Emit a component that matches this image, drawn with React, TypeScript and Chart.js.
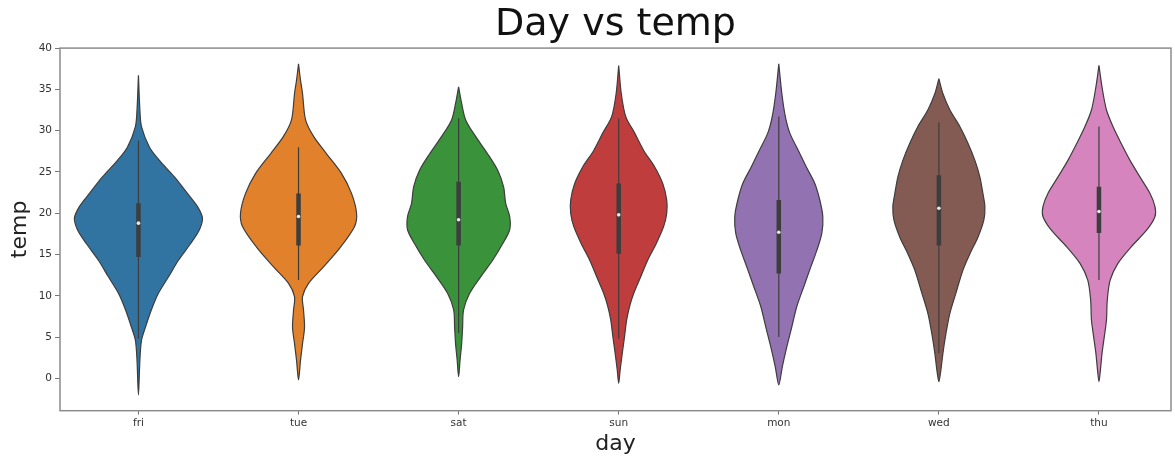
import React, { useEffect, useRef } from "react";
import { Chart, registerables } from "chart.js";

Chart.register(...registerables);

// ---- data ----
const days = ["fri", "tue", "sat", "sun", "mon", "wed", "thu"];
const colors = ["#3274a1", "#e1812c", "#3a923a", "#c03d3e", "#9372b2", "#845b53", "#d684bd"];
const yTicks = [0, 5, 10, 15, 20, 25, 30, 35, 40];

// density profiles: temperature levels (top -> bottom) and half-widths (category units)
const friTemps = [36.7, 32.5, 30.5, 28.0, 26.4, 24.4, 22.4, 20.8, 19.4, 18.0, 16.3, 14.3, 12.3, 10.3, 8.3, 6.2, 4.6, 2.2, -2.0];
const friHalf = [0, 0.009, 0.019, 0.069, 0.131, 0.225, 0.306, 0.369, 0.4, 0.381, 0.325, 0.25, 0.188, 0.125, 0.081, 0.044, 0.019, 0.009, 0];

const tueTemps = [38.1, 36.1, 34.5, 31.3, 29.3, 27.2, 24.8, 22.4, 20.0, 18.4, 15.9, 13.5, 11.5, 9.9, 8.3, 6.2, 4.2, 2.2, -0.2];
const tueHalf = [0, 0.0125, 0.025, 0.044, 0.094, 0.175, 0.269, 0.331, 0.3625, 0.35, 0.2625, 0.156, 0.0625, 0.025, 0.031, 0.0375, 0.025, 0.0125, 0];

const satTemps = [35.3, 33.3, 31.3, 29.3, 27.2, 25.2, 23.2, 21.2, 19.6, 18.0, 16.3, 14.3, 12.3, 10.3, 8.3, 6.2, 4.2, 2.2, 0.2];
const satHalf = [0, 0.019, 0.044, 0.106, 0.181, 0.244, 0.281, 0.294, 0.319, 0.319, 0.275, 0.2125, 0.1375, 0.069, 0.031, 0.025, 0.019, 0.009, 0];

const sunTemps = [37.9, 34.5, 31.7, 29.7, 27.6, 25.6, 23.6, 21.6, 20.0, 18.4, 16.3, 14.3, 12.3, 10.3, 8.7, 7.1, 5.0, 3.0, 1.0, -0.6];
const sunHalf = [0, 0.016, 0.044, 0.1, 0.156, 0.225, 0.275, 0.3, 0.3, 0.281, 0.234, 0.181, 0.1375, 0.094, 0.068, 0.05, 0.036, 0.022, 0.009, 0];

const monTemps = [38.1, 34.5, 31.7, 29.7, 27.6, 25.6, 23.6, 21.6, 19.6, 17.6, 15.5, 13.5, 11.1, 8.7, 6.2, 3.8, 1.4, -0.8];
const monHalf = [0, 0.019, 0.041, 0.069, 0.122, 0.172, 0.225, 0.256, 0.275, 0.269, 0.2375, 0.2, 0.156, 0.1125, 0.081, 0.05, 0.022, 0];

const wedTemps = [36.3, 34.5, 32.5, 30.5, 28.5, 26.4, 24.4, 22.4, 20.8, 19.2, 17.1, 15.1, 13.1, 10.3, 7.9, 5.4, 3.0, 1.0, -0.4];
const wedHalf = [0, 0.025, 0.069, 0.131, 0.181, 0.225, 0.256, 0.275, 0.2875, 0.281, 0.244, 0.194, 0.15, 0.106, 0.069, 0.044, 0.025, 0.0125, 0];

const thuTemps = [37.9, 35.3, 32.5, 30.5, 28.5, 26.4, 24.4, 22.4, 20.8, 19.6, 18.0, 15.9, 13.9, 11.9, 9.5, 7.1, 5.0, 3.0, 1.0, -0.4];
const thuHalf = [0, 0.019, 0.047, 0.0875, 0.1375, 0.194, 0.256, 0.319, 0.35, 0.35, 0.3, 0.2, 0.1175, 0.07, 0.052, 0.047, 0.033, 0.019, 0.009, 0];

const profileTemps = [friTemps, tueTemps, satTemps, sunTemps, monTemps, wedTemps, thuTemps];
const profileHalf = [friHalf, tueHalf, satHalf, sunHalf, monHalf, wedHalf, thuHalf];

// inner box statistics
const whiskerLow = [4.8, 11.9, 5.5, 4.8, 5.0, 3.0, 11.9];
const whiskerHigh = [28.8, 28.0, 31.5, 31.5, 31.7, 31.0, 30.5];
const q1 = [14.7, 16.1, 16.1, 15.1, 12.7, 16.1, 17.6];
const q3 = [21.2, 22.4, 23.8, 23.6, 21.6, 24.6, 23.2];
const medians = [18.8, 19.6, 19.2, 19.8, 17.7, 20.6, 20.2];

const EDGE = "#3d3d3d";

function outline(center: number, temps: number[], half: number[]) {
  const right = temps.map((t, i) => ({ x: center + half[i], y: t }));
  const left = temps.map((t, i) => ({ x: center - half[i], y: t })).reverse();
  return right.concat(left.slice(1));
}

const spinePlugin = {
  id: "spines",
  beforeDatasetsDraw(chart: any) {
    const { ctx, chartArea } = chart;
    ctx.save();
    ctx.strokeStyle = "#8c8c8c";
    ctx.lineWidth = 1.5;
    ctx.strokeRect(chartArea.left, chartArea.top, chartArea.right - chartArea.left, chartArea.bottom - chartArea.top);
    ctx.restore();
  },
};

export default function App() {
  const ref = useRef<HTMLCanvasElement | null>(null);

  useEffect(() => {
    if (!ref.current) return;
    Chart.defaults.font.family = "'DejaVu Sans', sans-serif";
    const datasets: any[] = [];
    days.forEach((_, i) => {
      datasets.push({
        type: "line",
        data: outline(i, profileTemps[i], profileHalf[i]),
        borderColor: EDGE,
        borderWidth: 1.2,
        backgroundColor: colors[i],
        fill: "shape",
        tension: 0.3,
        pointRadius: 0,
        order: 3,
      });
      datasets.push({
        type: "line",
        data: [{ x: i, y: whiskerLow[i] }, { x: i, y: whiskerHigh[i] }],
        borderColor: EDGE,
        borderWidth: 1.2,
        pointRadius: 0,
        fill: false,
        order: 2,
      });
      datasets.push({
        type: "line",
        data: [{ x: i, y: q1[i] }, { x: i, y: q3[i] }],
        borderColor: EDGE,
        borderWidth: 4.5,
        borderCapStyle: "butt",
        pointRadius: 0,
        fill: false,
        order: 1,
      });
      datasets.push({
        type: "line",
        data: [{ x: i, y: medians[i] }],
        showLine: false,
        pointRadius: 1.8,
        pointBackgroundColor: "#e8e8e8",
        pointBorderWidth: 0,
        order: 0,
      });
    });

    const chart = new Chart(ref.current, {
      type: "line",
      data: { datasets },
      plugins: [spinePlugin],
      options: {
        animation: false,
        responsive: false,
        devicePixelRatio: 1,
        layout: { padding: { left: 0, right: 3, top: 0, bottom: 0 } },
        plugins: {
          legend: { display: false },
          tooltip: { enabled: false },
          title: {
            display: true,
            text: "Day vs temp",
            fullSize: false,
            color: "#111111",
            font: { size: 38, weight: "normal" },
            padding: { top: 2.5, bottom: 0 },
          },
        },
        scales: {
          x: {
            type: "linear",
            min: -0.49,
            max: 6.45,
            afterBuildTicks: (s: any) => {
              s.ticks = days.map((_, i) => ({ value: i }));
            },
            afterFit: (s: any) => {
              s.height = 46.3;
            },
            ticks: {
              callback: (v: any) => days[v] ?? "",
              color: "#333333",
              font: { size: 10.5 },
              padding: 2,
              maxRotation: 0,
            },
            grid: { drawOnChartArea: false, drawTicks: true, tickLength: 4, color: "#777777" },
            border: { display: false },
            title: {
              display: true,
              text: "day",
              color: "#222222",
              font: { size: 22 },
              padding: { top: 1.8, bottom: 0 },
            },
          },
          y: {
            type: "linear",
            min: -3.92,
            max: 40,
            afterBuildTicks: (s: any) => {
              s.ticks = yTicks.map((v) => ({ value: v }));
            },
            afterFit: (s: any) => {
              s.width = 60;
            },
            ticks: { color: "#333333", font: { size: 10.5 }, padding: 3 },
            grid: { drawOnChartArea: false, drawTicks: true, tickLength: 5, color: "#777777" },
            border: { display: false },
            title: {
              display: true,
              text: "temp",
              color: "#222222",
              font: { size: 22 },
              padding: { top: 6.8, bottom: 0 },
            },
          },
        },
      },
    } as any);
    return () => chart.destroy();
  }, []);

  return (
    <div style={{ position: "fixed", left: 0, top: 0, width: 1175, height: 457, background: "#ffffff" }}>
      <canvas ref={ref} width={1175} height={457} />
    </div>
  );
}
